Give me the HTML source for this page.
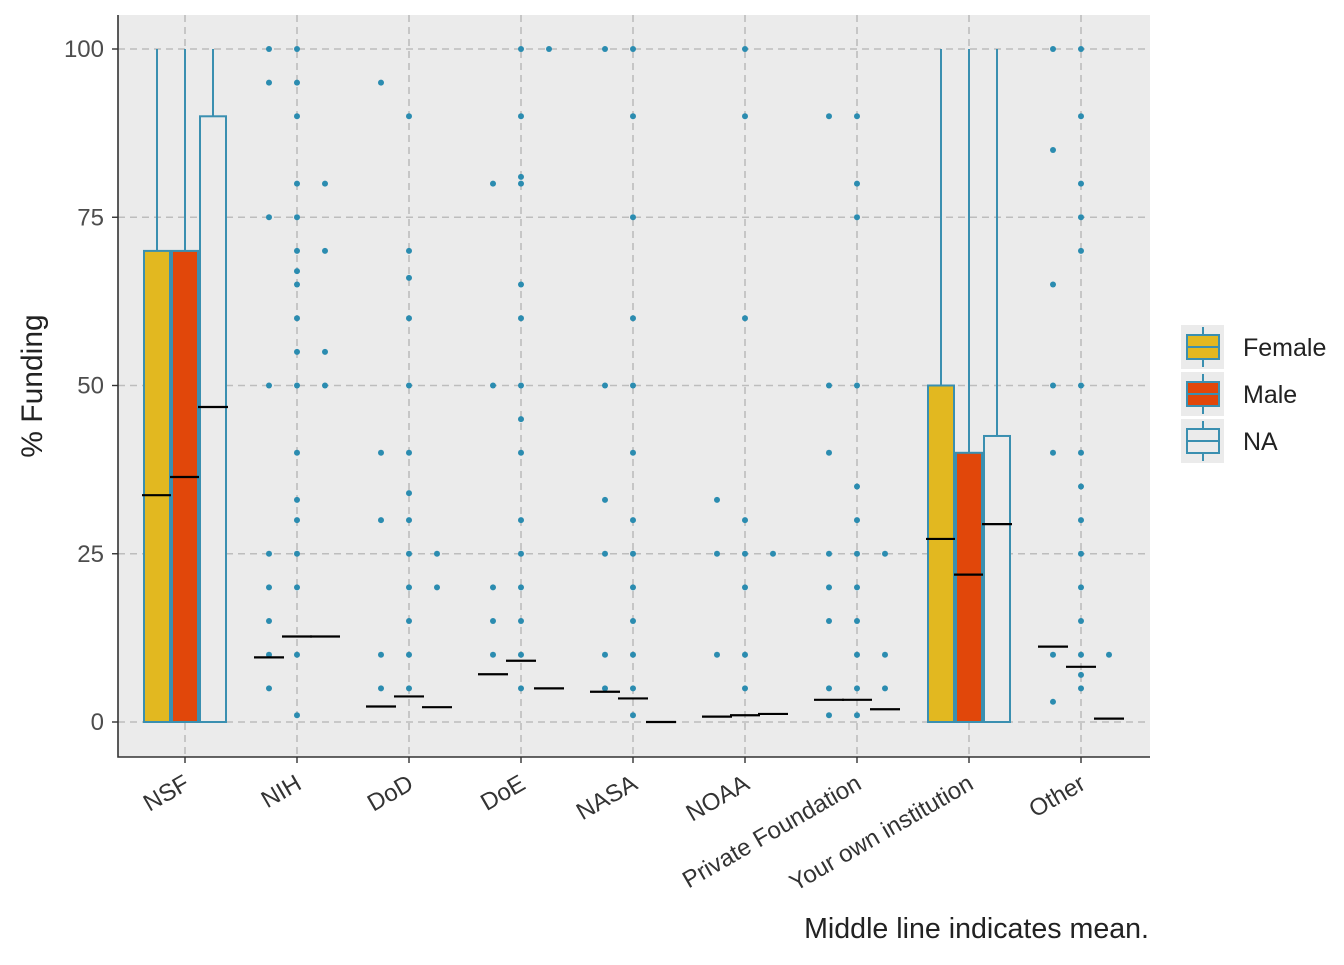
<!DOCTYPE html>
<html><head><meta charset="utf-8"><style>
body{margin:0;background:#fff;}
svg text{font-family:"Liberation Sans",Arial,sans-serif;}
</style></head><body>
<svg id="chart" width="1344" height="960" xmlns="http://www.w3.org/2000/svg"></svg>
<script>
const categories=["NSF","NIH","DoD","DoE","NASA","NOAA","Private Foundation","Your own institution","Other"];
const groups=["Female","Male","NA"];
const fills=["#E2B820","#E1470A","#EBEBEB"];
// box stats: [q1,q3,whiskerHigh,mean] per category per group
const femaleStats=[[0,70,100,33.7],[0,0,0,9.6],[0,0,0,2.3],[0,0,0,7.1],[0,0,0,4.5],[0,0,0,0.8],[0,0,0,3.3],[0,50,100,27.2],[0,0,0,11.2]];
const maleStats=[[0,70,100,36.4],[0,0,0,12.7],[0,0,0,3.8],[0,0,0,9.1],[0,0,0,3.5],[0,0,0,1.0],[0,0,0,3.3],[0,40,100,21.9],[0,0,0,8.2]];
const naStats=[[0,90,100,46.8],[0,0,0,12.7],[0,0,0,2.2],[0,0,0,5.0],[0,0,0,0],[0,0,0,1.2],[0,0,0,1.9],[0,42.5,100,29.4],[0,0,0,0.5]];
const femaleOutliers=[[],[100,95,75,50,25,20,15,10,5],[95,40,30,10,5],[80,50,20,15,10],[100,50,33,25,10,5],[33,25,10],[90,50,40,25,20,15,5,1],[],[100,85,65,50,40,10,3]];
const maleOutliers=[[],[100,95,90,80,75,70,67,65,60,55,50,40,33,30,25,20,10,1],[90,70,66,60,50,40,34,30,25,20,15,10,5],[100,90,81,80,65,60,50,45,40,30,25,20,15,10,5],[100,90,75,60,50,40,30,25,20,15,10,5,1],[100,90,60,30,25,20,10,5],[90,80,75,50,35,30,25,20,15,10,5,1],[],[100,90,80,75,70,50,40,35,30,25,20,15,10,7,5]];
const naOutliers=[[],[80,70,55,50],[25,20],[100],[],[25],[25,10,5],[],[10]];
const yTicks=[0,25,50,75,100];

const svg=document.getElementById('chart');
const NS="http://www.w3.org/2000/svg";
function mk(tag,attrs,parent){const e=document.createElementNS(NS,tag);for(const k in attrs)e.setAttribute(k,attrs[k]);(parent||svg).appendChild(e);return e;}
const PL=118,PR=1150,PT=15,PB=757;
const y=v=>722-(v/100)*673;
const x=i=>185+i*112;
const off=[-28,0,28];
const BW=26;
const stroke="#3A8FB0";

const panel=mk('rect',{x:PL,y:PT,width:PR-PL,height:PB-PT,fill:"#EBEBEB"});

yTicks.forEach(t=>{
 const g=mk('line',{x1:PL,x2:PR,y1:y(t),y2:y(t),stroke:"#BDBDBD","stroke-width":1.6,"stroke-dasharray":"7,5"});
 
 mk('line',{x1:PL-6,x2:PL,y1:y(t),y2:y(t),stroke:"#333","stroke-width":1.4});
 const tx=mk('text',{x:PL-14,y:y(t)+8,"text-anchor":"end","font-size":24,fill:"#4D4D4D"});tx.textContent=t;
 
});
categories.forEach((c,i)=>{
 const g=mk('line',{x1:x(i),x2:x(i),y1:PT,y2:PB,stroke:"#BDBDBD","stroke-width":1.6,"stroke-dasharray":"7,5"});
 
 mk('line',{x1:x(i),x2:x(i),y1:PB,y2:PB+6,stroke:"#333","stroke-width":1.4});
 const ax0=x(i)+6, ay0=PB+31;
 const tx=mk('text',{x:ax0,y:ay0,"text-anchor":"end","font-size":24,fill:"#333",transform:`rotate(-30 ${ax0} ${ay0})`});tx.textContent=c;
 
});
const allStats=[femaleStats,maleStats,naStats];
const allOut=[femaleOutliers,maleOutliers,naOutliers];
categories.forEach((c,i)=>{
 groups.forEach((gname,gi)=>{
  const s=allStats[gi][i];const cx=x(i)+off[gi];
  if(s[2]>s[1]){const w=mk('line',{x1:cx,x2:cx,y1:y(s[1]),y2:y(s[2]),stroke:stroke,"stroke-width":2});
   }
  const b=mk('rect',{x:cx-BW/2,y:y(s[1]),width:BW,height:Math.max(0,y(s[0])-y(s[1])),fill:fills[gi],stroke:stroke,"stroke-width":2});
  
  allOut[gi][i].forEach(v=>{const p=mk('circle',{cx:cx,cy:y(v),r:3,fill:"#2B8CB0"});
   });
  const m=mk('line',{x1:cx-BW/2-2,x2:cx+BW/2+2,y1:y(s[3]),y2:y(s[3]),stroke:"#000","stroke-width":2.2});
  
 });
});
const ax=mk('path',{d:`M${PL},${PT} V${PB} H${PR}`,fill:"none",stroke:"#333","stroke-width":1.6});

const yt=mk('text',{x:42,y:386,"text-anchor":"middle","font-size":30,fill:"#222",transform:"rotate(-90 42 386)"});yt.textContent="% Funding";

const cap=mk('text',{x:1149,y:938,"text-anchor":"end","font-size":28.6,fill:"#222"});cap.textContent="Middle line indicates mean.";

groups.forEach((gname,gi)=>{
 const ky=347+gi*47;
 const kb=mk('rect',{x:1181,y:ky-22,width:43,height:44,fill:"#EBEBEB"});
 
 mk('line',{x1:1203,x2:1203,y1:ky-20,y2:ky+20,stroke:stroke,"stroke-width":2});
 const r=mk('rect',{x:1187,y:ky-12,width:32,height:24,fill:fills[gi],stroke:stroke,"stroke-width":2});
 
 mk('line',{x1:1187,x2:1219,y1:ky,y2:ky,stroke:stroke,"stroke-width":2});
 const t=mk('text',{x:1243,y:ky+9,"font-size":25,fill:"#222"});t.textContent=gname;
 
});
</script>
</body></html>
